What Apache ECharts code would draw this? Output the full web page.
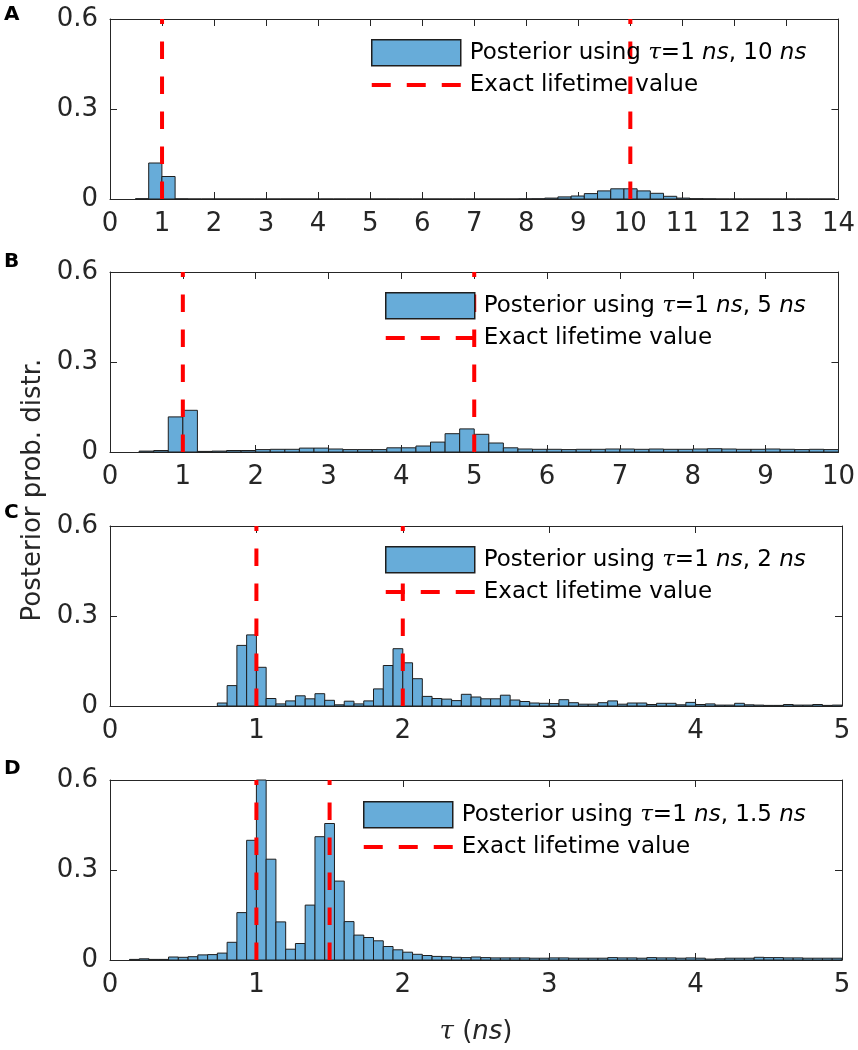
<!DOCTYPE html>
<html><head><meta charset="utf-8">
<script src="https://cdn.jsdelivr.net/npm/echarts@6/dist/echarts.min.js"></script>
<style>html,body{margin:0;padding:0;background:#fff}#c{width:858px;height:1050px}</style>
</head><body><div id="c"></div>
<script>
// ---------- data ----------
const panelLetters = ['A', 'B', 'C', 'D'];
const xMax = [14, 10, 5, 5];
const xTickStep = 1;
const yMax = 0.6;
const yTickStep = 0.3;

// Panel A: posterior using tau = 1 ns, 10 ns
const binStartA = 0.49, binWidthA = 0.2537;
const valuesA = [0.001, 0.12, 0.075, 0.0005, 0, 0, 0, 0, 0, 0,
  0, 0, 0, 0, 0, 0, 0, 0, 0, 0,
  0, 0, 0, 0, 0, 0, 0, 0, 0, 0.0005,
  0.0008, 0.003, 0.007, 0.010, 0.018, 0.027, 0.034, 0.034, 0.027, 0.019,
  0.009, 0.003, 0.001, 0.0005, 0, 0, 0, 0, 0, 0,
  0, 0, 0];
const exactA = [1, 10];

// Panel B: tau = 1 ns, 5 ns
const binStartB = 0.4, binWidthB = 0.2;
const valuesB = [0.003, 0.005, 0.117, 0.139, 0.002, 0.003, 0.005, 0.005, 0.008, 0.009,
  0.009, 0.013, 0.013, 0.010, 0.008, 0.008, 0.008, 0.014, 0.014, 0.020,
  0.033, 0.061, 0.077, 0.059, 0.030, 0.014, 0.010, 0.009, 0.009, 0.008,
  0.009, 0.009, 0.010, 0.010, 0.009, 0.010, 0.009, 0.009, 0.010, 0.011,
  0.010, 0.009, 0.009, 0.010, 0.009, 0.008, 0.009, 0.008];
const exactB = [1, 5];

// Panel C: tau = 1 ns, 2 ns
const binStartC = 0.7333, binWidthC = 1 / 15;
const valuesC = [0.010, 0.068, 0.202, 0.237, 0.129, 0.025, 0.007, 0.017, 0.034, 0.024,
  0.041, 0.019, 0.004, 0.016, 0.007, 0.017, 0.057, 0.135, 0.191, 0.144,
  0.091, 0.032, 0.025, 0.023, 0.018, 0.039, 0.030, 0.024, 0.024, 0.036,
  0.020, 0.015, 0.010, 0.009, 0.008, 0.021, 0.011, 0.006, 0.006, 0.011,
  0.017, 0.006, 0.010, 0.010, 0.005, 0.009, 0.009, 0.004, 0.012, 0.005,
  0.007, 0.003, 0.003, 0.009, 0.004, 0.003, 0.002, 0.002, 0.005, 0.003,
  0.003, 0.005, 0.002, 0.003];
const exactC = [1, 2];

// Panel D: tau = 1 ns, 1.5 ns
const binStartD = 0.1333, binWidthD = 1 / 15;
const valuesD = [0.002, 0.004, 0.002, 0.002, 0.010, 0.009, 0.011, 0.017, 0.018, 0.023,
  0.059, 0.158, 0.399, 0.62, 0.336, 0.127, 0.036, 0.055, 0.183, 0.411,
  0.455, 0.263, 0.128, 0.083, 0.075, 0.064, 0.045, 0.034, 0.026, 0.019,
  0.015, 0.012, 0.011, 0.009, 0.008, 0.010, 0.008, 0.007, 0.007, 0.007,
  0.007, 0.006, 0.006, 0.007, 0.007, 0.006, 0.006, 0.006, 0.006, 0.008,
  0.007, 0.007, 0.006, 0.008, 0.007, 0.007, 0.006, 0.007, 0.006, 0.003,
  0.004, 0.006, 0.006, 0.006, 0.009, 0.008, 0.008, 0.007, 0.007, 0.006,
  0.006, 0.006, 0.006];
const exactD = [1, 1.5];

const posteriorLabels = [
  'Posterior using {t|τ}=1 {i|ns}, 10 {i|ns}',
  'Posterior using {t|τ}=1 {i|ns}, 5 {i|ns}',
  'Posterior using {t|τ}=1 {i|ns}, 2 {i|ns}',
  'Posterior using {t|τ}=1 {i|ns}, 1.5 {i|ns}'
];
const exactLabel = 'Exact lifetime value';
const yTitle = 'Posterior prob. distr.';

// ---------- layout / style ----------
const panels = [
  {start: binStartA, width: binWidthA, values: valuesA, exact: exactA},
  {start: binStartB, width: binWidthB, values: valuesB, exact: exactB},
  {start: binStartC, width: binWidthC, values: valuesC, exact: exactC},
  {start: binStartD, width: binWidthD, values: valuesD, exact: exactD}
];
const gridTops = [19, 272, 526, 780];
const gridH = 180, gridL = 110, gridW = 732;
const legendPos = [[371, 39], [385, 292], [385, 546], [363, 801]];
const letterY = [15, 262, 513, 769];
const axisColor = '#262626';
const barFill = '#67acd9';
const barEdge = '#1e1e1e';
const FONT = 'DejaVu Sans';
const dashIcon = 'path://M0,0h19v4h-19z M35,0h19v4h-19z M70,0h19v4h-19z';

const chart = echarts.init(document.getElementById('c'), null, {renderer: 'canvas'});

const grids = [], xAxes = [], yAxes = [], series = [], legends = [];

function renderBin(params, api) {
  const x0 = api.value(0), x1 = api.value(1), h = api.value(2);
  const p0 = api.coord([x0, h]);
  const p1 = api.coord([x1, 0]);
  const cs = params.coordSys;
  const shape = echarts.graphic.clipRectByRect(
    {x: p0[0], y: p0[1], width: p1[0] - p0[0], height: p1[1] - p0[1]},
    {x: cs.x, y: cs.y, width: cs.width, height: cs.height});
  return shape && {type: 'rect', shape: shape,
    style: {fill: barFill, stroke: barEdge, lineWidth: 1}};
}

panels.forEach((p, i) => {
  grids.push({left: gridL, top: gridTops[i], width: gridW, height: gridH, containLabel: false});
  const axBase = {
    gridIndex: i, type: 'value', min: 0, max: xMax[i], interval: xTickStep,
    axisLine: {show: true, onZero: false, lineStyle: {color: axisColor, width: 1}},
    axisTick: {show: true, inside: true, length: 7, lineStyle: {color: axisColor, width: 1}},
    splitLine: {show: false}
  };
  xAxes.push(Object.assign({}, axBase, {position: 'bottom',
    axisLabel: {show: true, fontSize: 26, fontFamily: FONT, color: axisColor, margin: 12}}));
  xAxes.push(Object.assign({}, axBase, {position: 'top', axisLabel: {show: false}}));
  const ayBase = {
    gridIndex: i, type: 'value', min: 0, max: yMax, interval: yTickStep,
    axisLine: {show: true, onZero: false, lineStyle: {color: axisColor, width: 1}},
    axisTick: {show: true, inside: true, length: 7, lineStyle: {color: axisColor, width: 1}},
    splitLine: {show: false}
  };
  yAxes.push(Object.assign({}, ayBase, {position: 'left',
    axisLabel: {show: true, fontSize: 26, fontFamily: FONT, color: axisColor, margin: 12,
      formatter: v => (v === 0 ? '0' : v.toFixed(1))}}));
  yAxes.push(Object.assign({}, ayBase, {position: 'right', axisLabel: {show: false}}));

  const data = p.values.map((v, k) => [p.start + k * p.width, p.start + (k + 1) * p.width, v]);
  const postName = 'post' + panelLetters[i];
  const exactName = 'exact' + panelLetters[i];
  series.push({
    type: 'custom', name: postName, xAxisIndex: 2 * i, yAxisIndex: 2 * i,
    renderItem: renderBin, data: data, encode: {x: [0, 1], y: 2},
    itemStyle: {color: barFill}, z: 2, silent: true
  });
  p.exact.forEach(ex => {
    series.push({
      type: 'line', name: exactName, xAxisIndex: 2 * i, yAxisIndex: 2 * i,
      data: [[ex, 0], [ex, yMax]], symbol: 'none', silent: true, z: 3,
      lineStyle: {color: '#ff0000', width: 4, type: [17.5, 17.5]},
      itemStyle: {color: '#ff0000'}
    });
  });
  const labelMap = {};
  labelMap[postName] = posteriorLabels[i];
  labelMap[exactName] = exactLabel;
  legends.push({
    left: legendPos[i][0], top: legendPos[i][1], orient: 'vertical',
    itemWidth: 89, itemHeight: 26, itemGap: 7, selectedMode: false, padding: 0,
    symbolKeepAspect: true,
    data: [
      {name: postName, icon: 'rect',
        itemStyle: {color: barFill, borderColor: barEdge, borderWidth: 1.5}},
      {name: exactName, icon: dashIcon,
        itemStyle: {color: '#ff0000', borderWidth: 0}}
    ],
    formatter: name => labelMap[name],
    textStyle: {fontSize: 23, fontFamily: FONT, color: '#000', padding: [0, 0, 0, 4],
      rich: {
        t: {fontSize: 23, fontFamily: 'DejaVu Serif', fontStyle: 'italic', color: '#000'},
        i: {fontSize: 23, fontFamily: FONT, fontStyle: 'italic', color: '#000'}
      }}
  });
});

const graphics = panelLetters.map((L, i) => ({
  type: 'text', left: 4, top: letterY[i] - 10,
  style: {text: L, font: 'bold 20px "DejaVu Sans"', fill: '#000'}
}));
graphics.push({
  type: 'text', x: 33, y: 490, rotation: Math.PI / 2,
  style: {text: yTitle, font: '26px "DejaVu Sans"', fill: axisColor,
    align: 'center', verticalAlign: 'middle'}
});
graphics.push({
  type: 'text', x: 476, y: 1032,
  style: {text: '{t|τ} ({i|ns})', font: '26px "DejaVu Sans"', fill: axisColor,
    align: 'center', verticalAlign: 'middle',
    rich: {t: {fontFamily: 'DejaVu Serif', fontStyle: 'italic', fontSize: 26, fill: axisColor},
      i: {fontFamily: FONT, fontStyle: 'italic', fontSize: 26, fill: axisColor}}}
});

chart.setOption({
  animation: false,
  backgroundColor: '#fff',
  grid: grids, xAxis: xAxes, yAxis: yAxes, series: series, legend: legends,
  graphic: graphics
});
</script></body></html>
